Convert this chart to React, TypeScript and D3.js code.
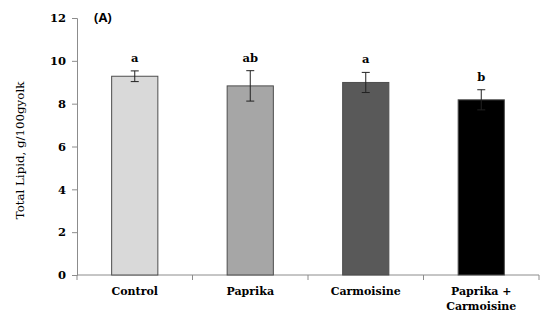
import React, { useRef, useEffect } from 'react';
import * as d3 from 'd3';

const categories = ['Control', 'Paprika', 'Carmoisine', 'Paprika +\nCarmoisine'];
const lipidMeans = [9.28, 8.83, 8.99, 8.18];
const lipidErrors = [0.25, 0.71, 0.47, 0.47];
const groupLetters = ['a', 'ab', 'a', 'b'];
const barColors = ['#d9d9d9', '#a6a6a6', '#595959', '#000000'];
const yTicks = [0, 2, 4, 6, 8, 10, 12];

function App() {
  const svgRef = useRef<SVGSVGElement>(null);

  useEffect(() => {
    document.body.style.margin = '0';
    const root = d3.select(svgRef.current);
    root.selectAll('*').remove();

    const W = 550;
    const H = 332;
    const margin = { top: 18, right: 11, bottom: 57, left: 77 };
    const width = W - margin.left - margin.right;
    const height = H - margin.top - margin.bottom;

    const serif = '"DejaVu Serif", serif';

    const svg = root.append('g')
      .attr('transform', `translate(${margin.left},${margin.top})`);

    const x = d3.scaleBand<string>()
      .domain(categories)
      .range([0, width])
      .paddingInner(0.6)
      .paddingOuter(0.3);

    const y = d3.scaleLinear()
      .domain([0, 12])
      .range([height, 0]);

    // Y axis
    const yAxis = svg.append('g')
      .call(d3.axisLeft(y).tickValues(yTicks).tickSize(5).tickPadding(6));
    yAxis.selectAll('line, path').attr('stroke', '#8c8c8c');
    yAxis.selectAll('text')
      .style('font-family', serif)
      .style('font-weight', 'bold')
      .style('font-size', '11.5px')
      .attr('fill', '#000');

    // X axis with ticks at band boundaries
    const xAxisG = svg.append('g').attr('transform', `translate(0,${height})`);
    xAxisG.append('line')
      .attr('x1', 0).attr('x2', width)
      .attr('stroke', '#8c8c8c');
    const bounds = d3.range(categories.length + 1).map(i => i * (width / categories.length));
    xAxisG.selectAll('.xtick')
      .data(bounds)
      .enter().append('line')
      .attr('x1', d => d).attr('x2', d => d)
      .attr('y1', 0).attr('y2', 5)
      .attr('stroke', '#8c8c8c');

    // X labels
    categories.forEach(c => {
      const lines = c.split('\n');
      const t = xAxisG.append('text')
        .attr('x', x(c)! + x.bandwidth() / 2)
        .attr('y', 20)
        .attr('text-anchor', 'middle')
        .style('font-family', serif)
        .style('font-weight', 'bold')
        .style('font-size', '11px');
      lines.forEach((l, i) => {
        t.append('tspan')
          .attr('x', x(c)! + x.bandwidth() / 2)
          .attr('dy', i === 0 ? 0 : 15)
          .text(l);
      });
    });

    // Bars
    svg.selectAll('.bar')
      .data(categories)
      .enter().append('rect')
      .attr('x', d => x(d)!)
      .attr('width', x.bandwidth())
      .attr('y', (d, i) => y(lipidMeans[i]))
      .attr('height', (d, i) => height - y(lipidMeans[i]))
      .attr('fill', (d, i) => barColors[i])
      .attr('stroke', '#4d4d4d')
      .attr('stroke-width', 1);

    // Error bars + letters
    categories.forEach((c, i) => {
      const cx = x(c)! + x.bandwidth() / 2;
      const hi = y(lipidMeans[i] + lipidErrors[i]);
      const lo = y(lipidMeans[i] - lipidErrors[i]);
      const g = svg.append('g').attr('stroke', '#222').attr('stroke-width', 1);
      g.append('line').attr('x1', cx).attr('x2', cx).attr('y1', hi).attr('y2', lo);
      g.append('line').attr('x1', cx - 4).attr('x2', cx + 4).attr('y1', hi).attr('y2', hi);
      g.append('line').attr('x1', cx - 4).attr('x2', cx + 4).attr('y1', lo).attr('y2', lo);

      svg.append('text')
        .attr('x', cx)
        .attr('y', hi - 9)
        .attr('text-anchor', 'middle')
        .style('font-family', serif)
        .style('font-weight', 'bold')
        .style('font-size', '11.5px')
        .text(groupLetters[i]);
    });

    // Panel label
    svg.append('text')
      .attr('x', 17)
      .attr('y', 4)
      .style('font-family', '"Open Sans", "Liberation Sans", sans-serif')
      .style('font-weight', 'bold')
      .style('font-size', '13px')
      .text('(A)');

    // Y axis title
    root.append('text')
      .attr('transform', `translate(24,${margin.top + height / 2 + 4}) rotate(-90)`)
      .attr('text-anchor', 'middle')
      .style('font-family', serif)
      .style('font-size', '11.8px')
      .text('Total Lipid, g/100gyolk');
  }, []);

  return (
    <svg ref={svgRef} width={550} height={332} style={{ display: 'block', background: '#fff' }}></svg>
  );
}

export default App;
